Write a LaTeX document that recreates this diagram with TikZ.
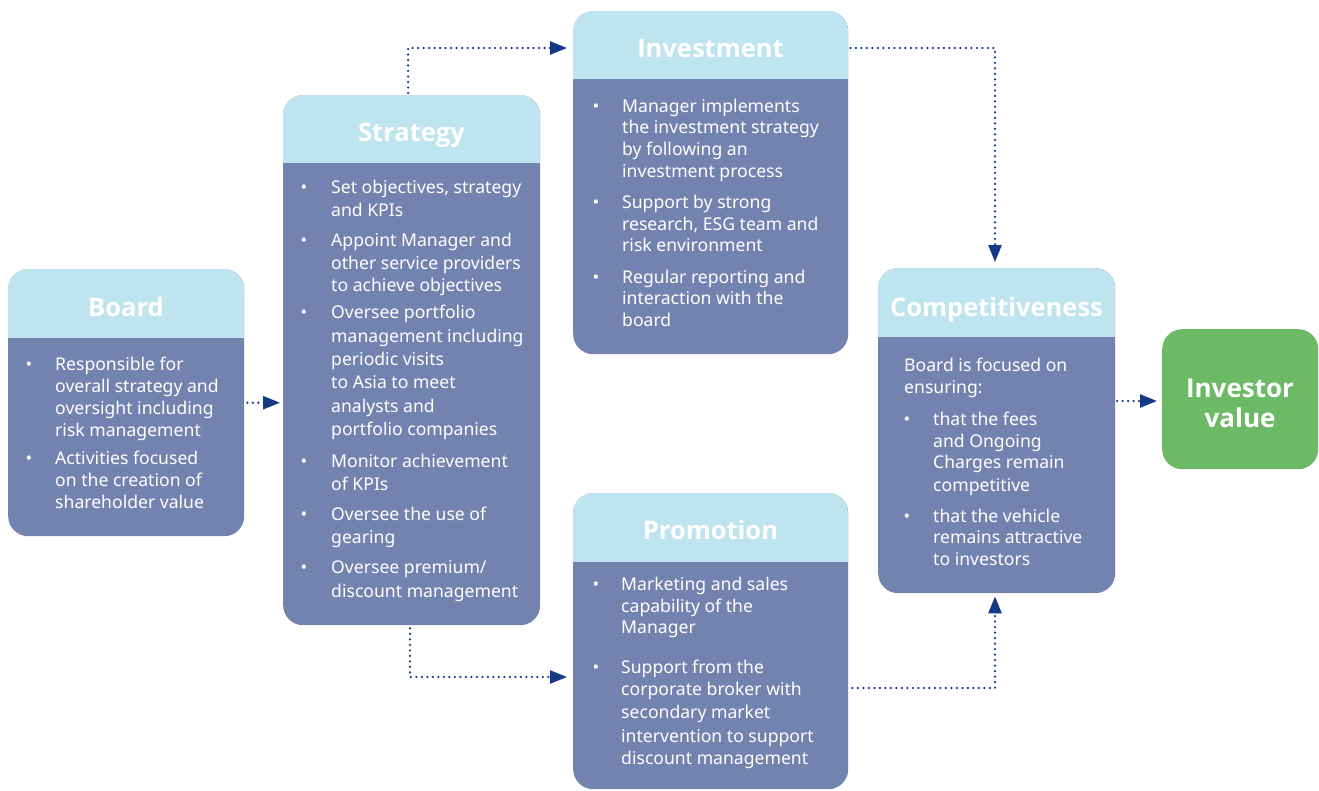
\documentclass[tikz,border=0pt]{standalone}
\usepackage{fontspec}
\setmainfont{Noto Sans}
\newfontfamily\hfont{Open Sans}
\usetikzlibrary{arrows.meta}
\definecolor{hdr}{RGB}{190,228,240}
\definecolor{bodyc}{RGB}{114,131,176}
\definecolor{grn}{RGB}{108,185,102}
\definecolor{navy}{RGB}{20,58,135}
\tikzset{
  boxbody/.style={fill=bodyc, rounded corners=20pt, inner sep=0pt, draw=none},
  htitle/.style={text=white, font=\hfont\fontsize{25.5}{30}\selectfont\bfseries, anchor=base, inner sep=0pt},
  btxt/.style={text=white, font=\fontsize{17.6}{22}\selectfont, anchor=base west, inner sep=0pt},
  bul/.style={text=white, font=\fontsize{17.6}{22}\selectfont, anchor=base, inner sep=0pt},
  conn/.style={draw=navy, line width=2.5pt, line cap=round, dash pattern=on 0pt off 5.5pt, -{Triangle[length=17pt,width=13pt]}},
}
\newcommand\mybox[6]{%
  \pgfmathsetmacro\bw{#4-#2}\pgfmathsetmacro\bh{#5-#3}%
  \node[boxbody, minimum width=\bw pt, minimum height=\bh pt, anchor=north west] (#1) at (#2,#3) {};
  \fill[hdr, rounded corners=20pt] (#2,#3) rectangle (#4,#6+20);
  \fill[bodyc] (#2,#6) rectangle (#4,#6+22);
}
\begin{document}
\begin{tikzpicture}[x=1pt,y=-1pt]
\useasboundingbox[fill=white] (0,0) rectangle (1319,790);

% boxes
\mybox{board}{8}{269}{244}{536}{338}
\mybox{strategy}{283}{95}{540}{625}{163}
\mybox{investment}{573}{11}{848}{354}{79}
\mybox{promotion}{573}{493}{848}{789}{562}
\mybox{comp}{878}{268}{1115}{593}{337}
\node[fill=grn, rounded corners=20pt, minimum width=156pt, minimum height=140pt, anchor=north west, inner sep=0pt] (iv) at (1162,329) {};

% titles
\node[htitle] (tboard) at (126,316) {Board};
\node[htitle] (tstrat) at (411.5,141) {Strategy};
\node[htitle] (tinv) at (710.5,57) {Investment};
\node[htitle] (tprom) at (710.5,539) {Promotion};
\node[htitle] (tcomp) at (996.5,316) {Competitiveness};
\node[htitle, font=\hfont\fontsize{26}{30}\selectfont\bfseries] (tiv1) at (1240,397) {Investor};
\node[htitle, font=\hfont\fontsize{26}{30}\selectfont\bfseries] (tiv2) at (1240,427) {value};

% Board text
\foreach \yy in {370,464} \node[bul] at (29,\yy) {•};
\foreach \yy/\txt in {370/Responsible for, 392/overall strategy and, 414/oversight including, 436/risk management, 464/Activities focused, 486/on the creation of, 508/shareholder value}
  \node[btxt] at (55,\yy) {\txt};

% Strategy text
\foreach \yy in {193,246,318,467,520,573} \node[bul] at (304,\yy) {•};
\foreach \yy/\txt in {193/{Set objectives, strategy}, 216/and KPIs, 246/Appoint Manager and, 269/other service providers, 291/to achieve objectives, 318/Oversee portfolio, 342/management including, 365/periodic visits, 388/to Asia to meet, 412/analysts and, 435/portfolio companies, 467/Monitor achievement, 490/of KPIs, 520/Oversee the use of, 543/gearing, 573/{Oversee premium/}, 597/discount management}
  \node[btxt] at (331,\yy) {\txt};

% Investment text
\foreach \yy in {112,208,283} \node[bul] at (596,\yy) {•};
\foreach \yy/\txt in {112/Manager implements, 133/the investment strategy, 155/by following an, 177/investment process, 208/Support by strong, 230/{research, ESG team and}, 251/risk environment, 283/Regular reporting and, 304/interaction with the, 326/board}
  \node[btxt] at (622,\yy) {\txt};

% Promotion text
\foreach \yy in {590,673} \node[bul] at (596,\yy) {•};
\foreach \yy/\txt in {590/Marketing and sales, 612/capability of the, 633/Manager, 673/Support from the, 695/corporate broker with, 718/secondary market, 742/intervention to support, 764/discount management}
  \node[btxt] at (621,\yy) {\txt};

% Competitiveness text
\node[btxt] at (904,371) {Board is focused on};
\node[btxt] at (904,393) {ensuring:};
\foreach \yy in {425,522} \node[bul] at (907,\yy) {•};
\foreach \yy/\txt in {425/that the fees, 447/and Ongoing, 468/Charges remain, 491/competitive, 522/that the vehicle, 543/remains attractive, 565/to investors}
  \node[btxt] at (933,\yy) {\txt};

% connectors
\coordinate (c1) at (408,48);
\coordinate (c2) at (995,48);
\coordinate (c3) at (410,677);
\coordinate (c4) at (995,688);
\coordinate (c5) at (1117,401);
\draw[conn] ([xshift=3pt]board.east) -- ([xshift=-3pt]strategy.west |- board.east);
\draw[conn] ([yshift=2pt]strategy.north -| c1) -- (c1) -- ([xshift=-6pt]investment.west |- c1);
\draw[conn] ([xshift=2pt]investment.east |- c2) -- (c2) -- ([yshift=6pt]comp.north -| c2);
\draw[conn] ([yshift=-3pt]strategy.south -| c3) -- (c3) -- ([xshift=-6pt]promotion.west |- c3);
\draw[conn] ([xshift=4pt]promotion.east |- c4) -- (c4) -- ([yshift=-3pt]comp.south -| c4);
\draw[conn] (c5) -- ([xshift=-5pt]iv.west |- c5);
\end{tikzpicture}
\end{document}
